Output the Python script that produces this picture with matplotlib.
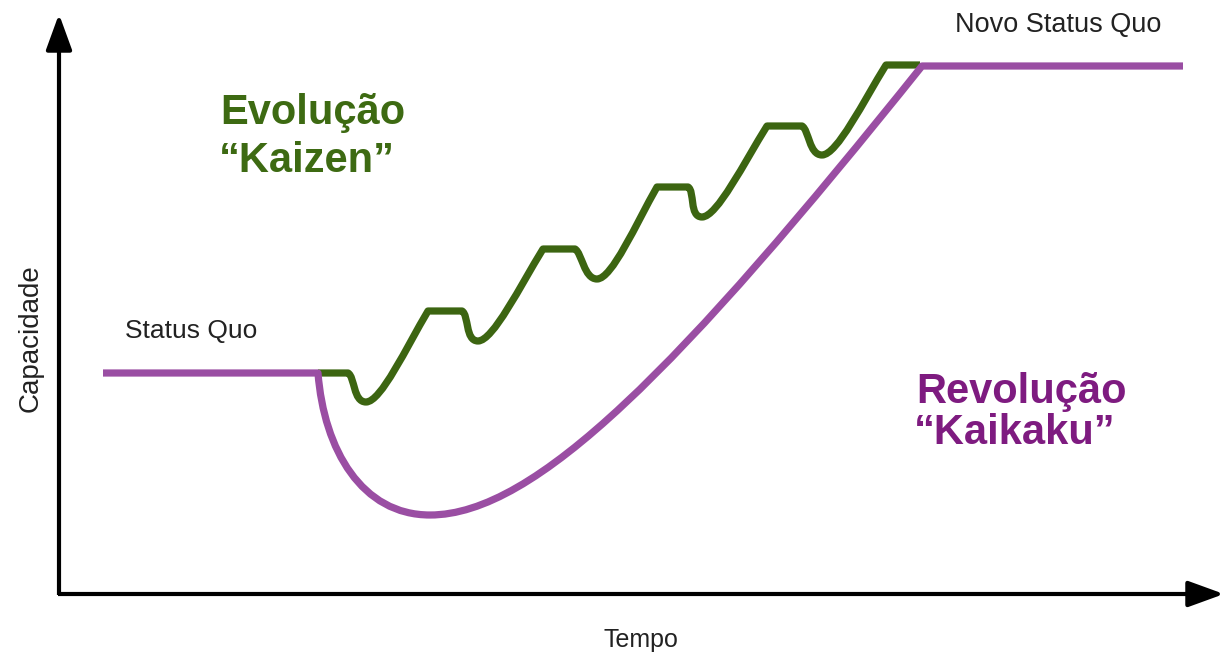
import matplotlib.pyplot as plt
from matplotlib.path import Path
from matplotlib.patches import PathPatch

# canvas in pixel-like units (x right, y down)
W, H = 1224, 655

# axes arrows
axis_origin = (59, 594)
y_axis_top = 14
x_axis_right = 1224

# "Kaizen" steps: flat tops and dips between them
flat_start_x = [318, 428, 543, 657, 767, 886]
flat_end_x = [348, 462, 575, 688, 802, 920]
flat_y = [373, 311, 249, 187, 126, 65]
dip_x = [366, 478, 597, 702, 822]
dip_y = [402, 341, 279, 217, 155]

# "Kaikaku" curve key points
status_quo_x = [103, 318]
status_quo_y = 373
low_point = (430, 515)
new_level_x = [922, 1183]
new_level_y = 66

green = '#3c6511'
purple = '#9a4ea3'
green_text = '#3d6a12'
purple_text = '#7e1b80'

plt.rcParams['font.family'] = ['Liberation Sans', 'DejaVu Sans']

fig = plt.figure(figsize=(12.24, 6.55), dpi=100)
ax = fig.add_axes([0, 0, 1, 1])
ax.set_xlim(0, W)
ax.set_ylim(H, 0)
ax.axis('off')

# axes with arrow heads
head = '-|>,head_length=2.2,head_width=0.8'
ax.annotate('', xy=(axis_origin[0], y_axis_top), xytext=(axis_origin[0], axis_origin[1] + 1),
            annotation_clip=False,
            arrowprops=dict(arrowstyle=head, color='black', lw=3, shrinkA=0, shrinkB=0,
                            capstyle='butt'))
ax.annotate('', xy=(x_axis_right, axis_origin[1]), xytext=(axis_origin[0] - 1, axis_origin[1]),
            annotation_clip=False,
            arrowprops=dict(arrowstyle=head, color='black', lw=3, shrinkA=0, shrinkB=0,
                            capstyle='butt'))

# green stepped path
verts = [(flat_start_x[0], flat_y[0]), (flat_end_x[0], flat_y[0])]
codes = [Path.MOVETO, Path.LINETO]
for i in range(len(dip_x)):
    xe, ye = flat_end_x[i], flat_y[i]
    xd, yd = dip_x[i], dip_y[i]
    xs, ys = flat_start_x[i + 1], flat_y[i + 1]
    # drop into the dip
    verts += [(xe + 7, ye + 4), (xd - 13, yd), (xd, yd)]
    codes += [Path.CURVE4] * 3
    # climb to next plateau
    verts += [(xd + 15, yd), (xs - 0.35 * (xs - xd), ys + 0.4 * (yd - ys)), (xs, ys)]
    codes += [Path.CURVE4] * 3
    verts.append((flat_end_x[i + 1], ys))
    codes.append(Path.LINETO)
ax.add_patch(PathPatch(Path(verts, codes), fill=False, edgecolor=green, lw=5.2,
                       capstyle='butt', joinstyle='round'))

# purple curve
pverts = [(status_quo_x[0], status_quo_y), (status_quo_x[1], status_quo_y),
          (324, 450), (362, low_point[1]), low_point,
          (535, low_point[1]), (680, 368), (new_level_x[0], new_level_y),
          (new_level_x[1], new_level_y)]
pcodes = [Path.MOVETO, Path.LINETO] + [Path.CURVE4] * 6 + [Path.LINETO]
ax.add_patch(PathPatch(Path(pverts, pcodes), fill=False, edgecolor=purple, lw=5.2,
                       capstyle='butt', joinstyle='round'))

# labels
ax.text(220, 124, 'Evolução', color=green_text, fontsize=30, fontweight='bold', va='baseline')
ax.text(219, 172, '“Kaizen”', color=green_text, fontsize=30, fontweight='bold', va='baseline')
ax.text(916, 403, 'Revolução', color=purple_text, fontsize=30, fontweight='bold', va='baseline')
ax.text(914, 444, '“Kaikaku”', color=purple_text, fontsize=30, fontweight='bold', va='baseline')
ax.text(125, 338, 'Status Quo', color='#222222', fontsize=19, va='baseline')
ax.text(955, 32, 'Novo Status Quo', color='#222222', fontsize=19.5, va='baseline')
ax.text(641, 647, 'Tempo', color='#222222', fontsize=18, ha='center', va='baseline')
ax.text(31, 338, 'Capacidade', color='#222222', fontsize=20, rotation=90, ha='center', va='center')

fig.savefig('out.png', dpi=100)
